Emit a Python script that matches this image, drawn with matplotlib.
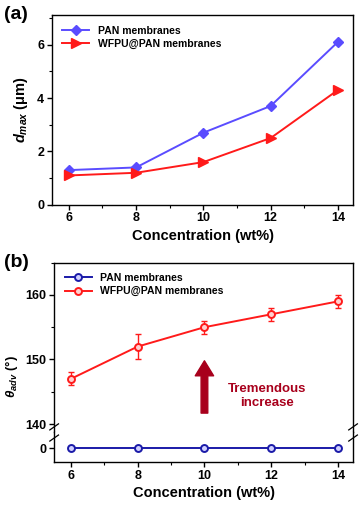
import matplotlib
matplotlib.use("Agg")
import matplotlib.pyplot as plt
from matplotlib.ticker import MultipleLocator

plt.rcParams["font.family"] = ["Liberation Sans", "DejaVu Sans"]
plt.rcParams["font.weight"] = "bold"
plt.rcParams["mathtext.fontset"] = "custom"
plt.rcParams["mathtext.it"] = "Liberation Sans:italic:bold"
plt.rcParams["mathtext.rm"] = "Liberation Sans:bold"

# data
conc = [6, 8, 10, 12, 14]
dmax_pan = [1.3, 1.4, 2.7, 3.7, 6.1]
dmax_wfpu = [1.1, 1.2, 1.6, 2.5, 4.3]
theta_pan = [0, 0, 0, 0, 0]
theta_wfpu = [147, 152, 155, 157, 159]
theta_wfpu_err = [1, 2, 1, 1, 1]

blue_a = "#5a4cff"
red = "#ff1a1a"
blue_b = "#1a1aa8"
dark_red = "#a8001c"


def style_ax(ax):
    for s in ax.spines.values():
        s.set_linewidth(1.0)
    ax.tick_params(direction="out", length=3.5, width=1.0, labelsize=9, pad=2)
    ax.tick_params(which="minor", direction="out", length=2, width=0.8)
    ax.tick_params(top=False, right=False, which="both")
    ax.xaxis.set_major_locator(MultipleLocator(2))
    ax.xaxis.set_minor_locator(MultipleLocator(1))
    ax.set_xlim(5.5, 14.45)


fig = plt.figure(figsize=(3.61, 5.07), dpi=100)

# panel (a)
ax1 = fig.add_axes([0.144, 0.596, 0.834, 0.374])
ax1.plot(conc, dmax_pan, "-D", color=blue_a, lw=1.4, ms=5.5, label="PAN membranes")
ax1.plot(conc, dmax_wfpu, "->", color=red, lw=1.4, ms=7, label="WFPU@PAN membranes")
style_ax(ax1)
ax1.set_ylim(0, 7.1)
ax1.yaxis.set_major_locator(MultipleLocator(2))
ax1.yaxis.set_minor_locator(MultipleLocator(1))
ax1.set_xlabel("Concentration (wt%)", fontsize=10.5, fontweight="bold", labelpad=3)
ax1.set_ylabel(r"$d_{max}$ (μm)", fontsize=10.5, fontweight="bold", labelpad=5)
ax1.legend(loc="upper left", frameon=False, handlelength=2.6,
           borderaxespad=0.6, labelspacing=0.3, prop={"weight": "bold", "size": 7.5})
fig.text(0.01, 0.962, "(a)", fontsize=14, fontweight="bold")

# panel (b): broken y-axis
axt = fig.add_axes([0.150, 0.147, 0.828, 0.335])
axb = fig.add_axes([0.150, 0.089, 0.828, 0.058], sharex=axt)

axt.errorbar(conc, theta_wfpu, yerr=theta_wfpu_err, fmt="none", ecolor=red,
             capsize=2.5, elinewidth=1.0, capthick=1.0)
l_wfpu, = axt.plot(conc, theta_wfpu, "-o", color=red, lw=1.4, ms=5, mfc="#ffd0d0",
                   mec=red, mew=1.4, label="WFPU@PAN membranes")
l_pan, = axb.plot(conc, theta_pan, "-o", color=blue_b, lw=1.4, ms=5, mfc="#d0d0ff",
                  mec=blue_b, mew=1.4, label="PAN membranes")

style_ax(axt)
style_ax(axb)
axt.set_ylim(138.7, 165)
axt.yaxis.set_major_locator(MultipleLocator(10))
axt.yaxis.set_minor_locator(MultipleLocator(5))
axt.spines["bottom"].set_visible(False)
axt.tick_params(axis="x", which="both", bottom=False, labelbottom=False)

axb.set_ylim(-2.1, 2.4)
axb.set_yticks([0])
axb.yaxis.set_minor_locator(MultipleLocator(100))
axb.spines["top"].set_visible(False)
axb.set_xlabel("Concentration (wt%)", fontsize=10.5, fontweight="bold", labelpad=3)

axt.set_ylabel(r"$\theta_{adv}$ (°)", fontsize=9.5, fontweight="bold")
axt.yaxis.set_label_coords(-0.115, 0.33)

# break marks
for xx in (0, 1):
    for dy in (-0.011, 0.011):
        fig.add_artist(plt.Line2D(
            [0.150 + 0.828 * xx - 0.012, 0.150 + 0.828 * xx + 0.012],
            [0.147 + dy - 0.006, 0.147 + dy + 0.006],
            color="black", lw=0.9, transform=fig.transFigure))

axt.legend([l_pan, l_wfpu], ["PAN membranes", "WFPU@PAN membranes"], loc="upper left",
           frameon=False, handlelength=2.6, borderaxespad=0.6, labelspacing=0.3,
           prop={"weight": "bold", "size": 7.5})

axt.annotate("", xy=(10, 149.8), xytext=(10, 141.7),
             arrowprops=dict(arrowstyle="simple,head_length=0.9,head_width=1.1,tail_width=0.4",
                             color=dark_red, mutation_scale=12, shrinkA=0, shrinkB=0))
axt.text(11.88, 144.4, "Tremendous\nincrease", color=dark_red, fontsize=9.5,
         fontweight="bold", ha="center", va="center", linespacing=1.2)

fig.text(0.01, 0.474, "(b)", fontsize=14, fontweight="bold")

fig.savefig("out.png", dpi=100)
